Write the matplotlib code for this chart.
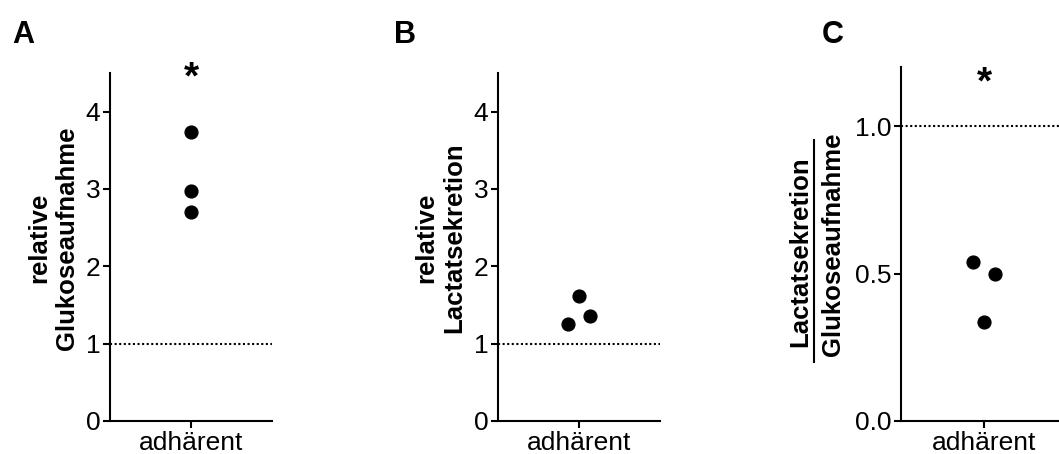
import numpy as np
import matplotlib.pyplot as plt
from matplotlib.lines import Line2D

plt.rcParams['font.family'] = ['Liberation Sans', 'DejaVu Sans']

# Data
categories = ["adhärent"]
glucose = [3.74, 2.97, 2.70]
glucose_x = [0.0, 0.0, 0.0]
lactate = [1.61, 1.355, 1.26]
lactate_x = [0.0, 0.135, -0.13]
ratio = [0.54, 0.50, 0.336]
ratio_x = [-0.13, 0.13, 0.0]

W, H = 1059, 454
fig = plt.figure(figsize=(W / 100, H / 100), dpi=100)


def px_axes(left, top, right, bottom):
    return fig.add_axes([left / W, 1 - bottom / H, (right - left) / W, (bottom - top) / H])


def style(ax, ymax, yticks, fmt):
    for s in ['top', 'right']:
        ax.spines[s].set_visible(False)
    for s in ['left', 'bottom']:
        ax.spines[s].set_linewidth(1.5)
    ax.set_xlim(-1, 1)
    ax.set_ylim(0, ymax)
    ax.set_xticks([0])
    ax.set_xticklabels(categories, fontsize=19)
    ax.set_yticks(yticks)
    ax.set_yticklabels([fmt.format(t) for t in yticks], fontsize=19)
    ax.tick_params(direction='out', length=5, width=1.5, pad=2)
    ax.axhline(1, color='black', lw=1.5, linestyle=(0, (1, 1.2)), zorder=1)


# A
axA = px_axes(110, 73, 272, 421)
axA.scatter(glucose_x, glucose, s=85, color='black', zorder=3, clip_on=False)
style(axA, 4.5, [0, 1, 2, 3, 4], "{:g}")
axA.text(0, 4.43, "*", ha='center', va='center', fontsize=28, fontweight='bold', clip_on=False)

# B
axB = px_axes(498, 73, 660, 421)
axB.scatter(lactate_x, lactate, s=85, color='black', zorder=3, clip_on=False)
style(axB, 4.5, [0, 1, 2, 3, 4], "{:g}")

# C
axC = px_axes(901, 67, 1067, 421)
axC.scatter(ratio_x, ratio, s=85, color='black', zorder=3, clip_on=False)
style(axC, 1.2, [0.0, 0.5, 1.0], "{:.1f}")
axC.text(0, 1.145, "*", ha='center', va='center', fontsize=28, fontweight='bold', clip_on=False)


def ftext(x, y, s, **kw):
    fig.text(x / W, 1 - y / H, s, **kw)


# Axis labels
lab = dict(rotation=90, ha='center', va='center', fontsize=18.5, fontweight='bold')
ftext(53, 238, "relative\nGlukoseaufnahme", linespacing=1.2, **lab)
ftext(440, 238, "relative\nLactatsekretion", linespacing=1.2, **lab)
ftext(800, 252, "Lactatsekretion", **lab)
ftext(833, 244, "Glukoseaufnahme", **lab)
fig.add_artist(Line2D([814 / W, 814 / W], [1 - 140 / H, 1 - 362 / H], color='black', lw=1.5))

# Panel letters
for x, letter in [(23, "A"), (405, "B"), (833, "C")]:
    ftext(x, 35, letter, ha='center', va='center', fontsize=22, fontweight='bold')

fig.savefig("out.png", dpi=100)
